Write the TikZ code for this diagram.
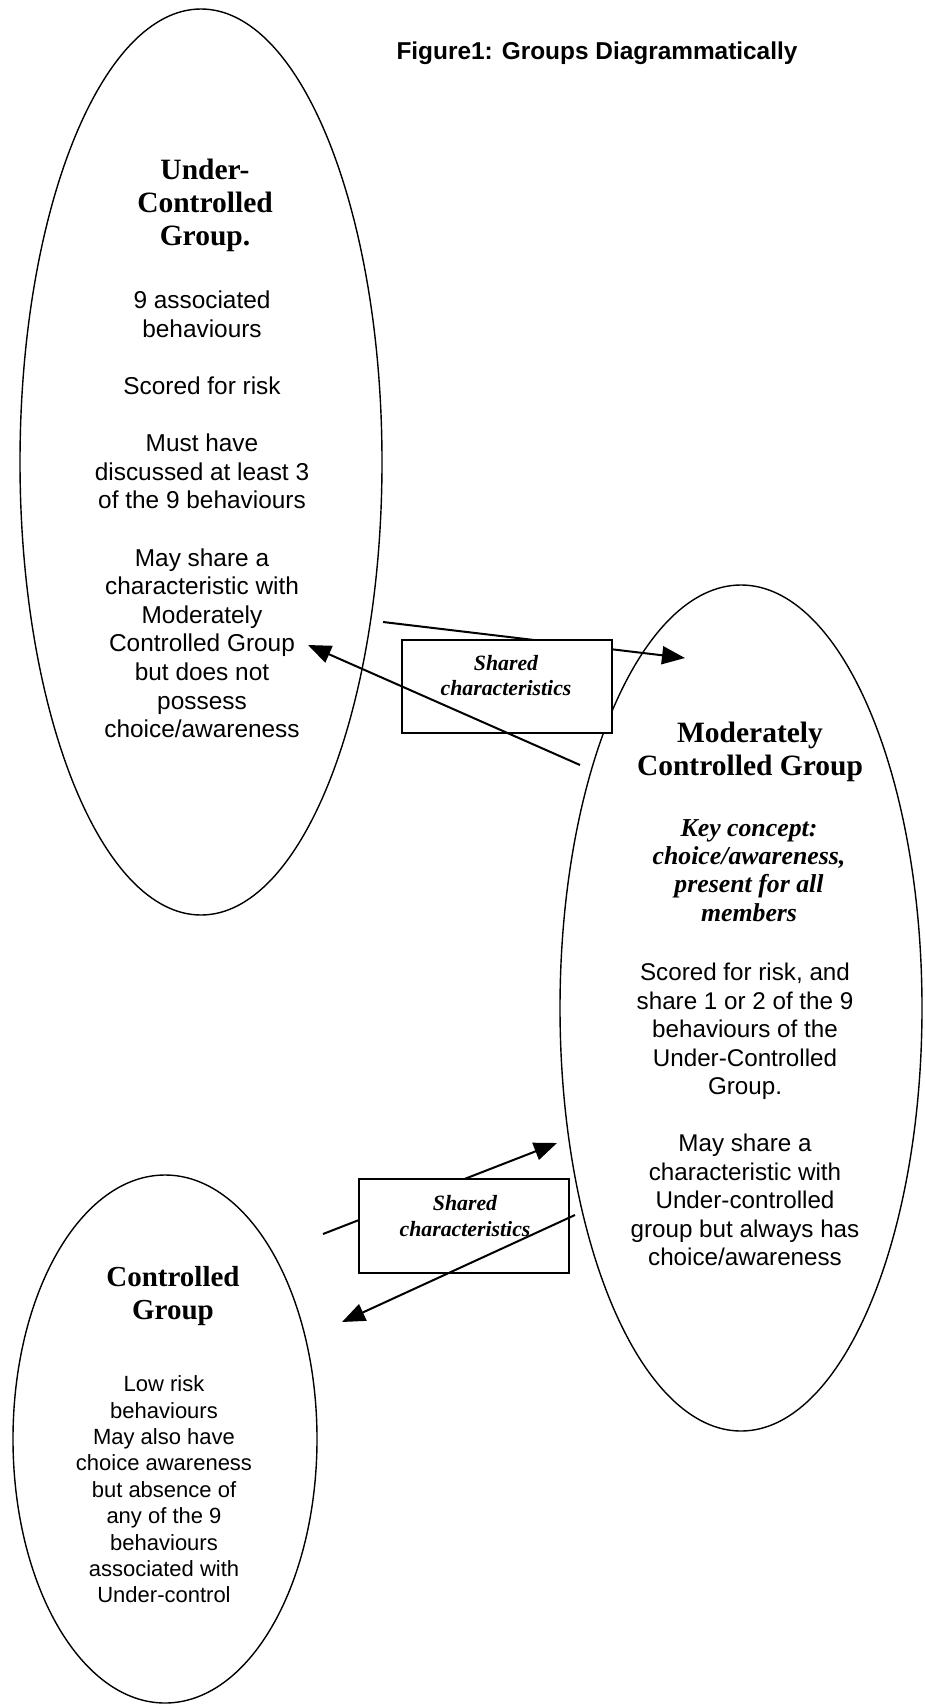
\documentclass[tikz,border=0pt]{standalone}
\usepackage{fontspec}
\setmainfont{Liberation Serif}
\newfontfamily\arialf{Liberation Sans}
\usetikzlibrary{shapes.geometric,arrows.meta}
\begin{document}
\begin{tikzpicture}[x=1pt,y=-1pt,
  grp/.style={draw, ellipse, line width=1.4pt, inner sep=0pt, outer sep=0pt},
  hdr/.style={align=center, font={\fontsize{29.5}{33}\selectfont\bfseries}, inner sep=0pt},
  bodytxt/.style={align=center, font={\fontsize{24.4}{28.6}\selectfont\arialf}, inner sep=0pt},
  keytxt/.style={align=center, font={\fontsize{25.8}{28.3}\selectfont\bfseries\itshape}, inner sep=0pt},
  sbox/.style={draw, fill=white, line width=1.8pt, inner sep=0pt},
  stext/.style={align=center, font={\fontsize{21.8}{25.5}\selectfont\bfseries\itshape}, inner sep=0pt},
  link/.style={line width=2pt, -{Triangle[length=23pt,width=18pt]}},
  ttl/.style={font={\fontsize{24.4}{28}\selectfont\arialf\bfseries}, inner sep=0pt}
]
\fill[white] (0,0) rectangle (924,1704);
\useasboundingbox (0,0) rectangle (924,1704);

% title
\node[ttl] (title) at (597,53) {Figure1: Groups Diagrammatically};

% Under-controlled group
\node[grp, minimum width=362pt, minimum height=906pt] (uc) at (201,462) {};
\node[hdr] (uch) at (205,205) {Under-\\Controlled\\Group.};
\node[bodytxt] (ucb) at (202,514.5) {9 associated\\behaviours\\[28.6pt]Scored for risk\\[28.6pt]Must have\\discussed at least 3\\of the 9 behaviours\\[28.6pt]May share a\\characteristic with\\Moderately\\Controlled Group\\but does not\\possess\\choice/awareness};

% Moderately controlled group
\node[grp, minimum width=362pt, minimum height=846pt] (mc) at (741,1008) {};
\node[hdr] (mch) at (750,751.5) {Moderately\\Controlled Group};
\node[keytxt] (mck) at (749,870.5) {Key concept:\\choice/awareness,\\present for all\\members};
\node[bodytxt, font={\fontsize{24.2}{28.5}\selectfont\arialf}] (mcb) at (745,1114.5) {Scored for risk, and\\share 1 or 2 of the 9\\behaviours of the\\Under-Controlled\\Group.\\[28.5pt]May share a\\characteristic with\\Under-controlled\\group but always has\\choice/awareness};

% Controlled group
\node[grp, minimum width=304pt, minimum height=528pt] (cg) at (165,1439) {};
\node[hdr, font={\fontsize{29}{33}\selectfont\bfseries}] (cgh) at (173,1296.5) {Controlled\\Group};
\node[bodytxt, font={\fontsize{22}{26.4}\selectfont\arialf}] (cgb) at (164,1489.5) {Low risk\\behaviours\\May also have\\choice awareness\\but absence of\\any of the 9\\behaviours\\associated with\\Under-control};

% upper shared characteristics
\coordinate (aS) at (383,622);
\coordinate (aE) at (685,658);
\draw[link] (aS) -- (aE);
\node[sbox, minimum width=210pt, minimum height=93pt] (box1) at (507,686.5) {};
\node[stext] (box1t) at (506,675.5) {Shared\\characteristics};
\coordinate (bS) at (580,765);
\coordinate (bE) at (308,645);
\draw[link] (bS) -- (bE);

% lower shared characteristics
\coordinate (cS) at (323,1234);
\coordinate (cE) at (557,1143);
\draw[link] (cS) -- (cE);
\node[sbox, minimum width=210pt, minimum height=94pt] (box2) at (464,1226) {};
\node[stext] (box2t) at (465,1216) {Shared\\characteristics};
\coordinate (dS) at (575,1215);
\coordinate (dE) at (342,1322);
\draw[link] (dS) -- (dE);
\end{tikzpicture}
\end{document}
